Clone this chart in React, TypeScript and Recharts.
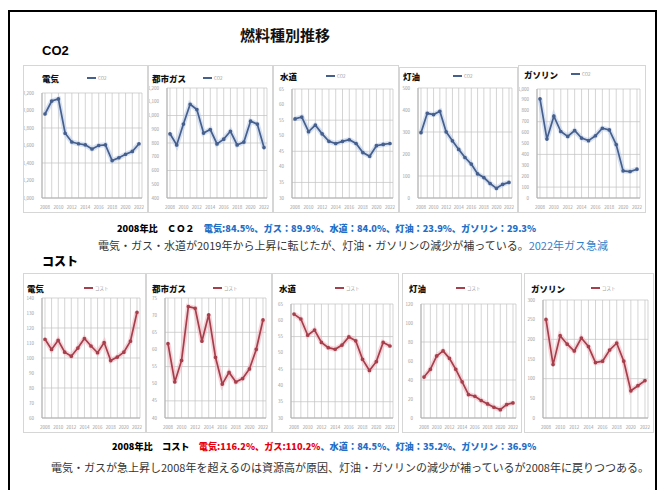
import React from 'react'
import { LineChart, Line, XAxis, YAxis, CartesianGrid } from 'recharts'

// 2008〜2022 年の推移
const years = [2008, 2009, 2010, 2011, 2012, 2013, 2014, 2015, 2016, 2017, 2018, 2019, 2020, 2021, 2022]

// CO2 (kg)
const co2Electric = [1960, 2108, 2132, 1740, 1640, 1620, 1608, 1560, 1600, 1608, 1428, 1460, 1500, 1532, 1620]
const co2Gas = [867, 786, 938, 1082, 1043, 872, 898, 793, 828, 885, 786, 807, 959, 938, 767]
const co2Water = [55.4, 56.0, 51.3, 53.4, 50.6, 48.2, 47.5, 48.2, 48.7, 47.5, 44.6, 43.4, 46.8, 47.2, 47.5]
const co2Kerosene = [297, 385, 379, 394, 301, 260, 221, 184, 154, 110, 93, 66, 44, 62, 71]
const co2Gasoline = [910, 541, 751, 610, 565, 619, 550, 526, 571, 640, 625, 490, 249, 243, 264]

// コスト (千円)
const costElectric = [112.5, 105.7, 111.8, 103.9, 101.2, 106.6, 113.0, 108.0, 103.5, 110.3, 98.3, 100.6, 103.9, 111.2, 130.5]
const costGas = [61.7, 50.5, 56.8, 72.5, 72.0, 62.4, 70.1, 57.7, 49.9, 53.3, 50.5, 51.5, 54.3, 60.0, 68.6]
const costWater = [61.9, 60.4, 55.4, 57.0, 53.2, 51.6, 51.1, 52.4, 54.9, 53.7, 48.0, 44.6, 47.3, 53.2, 52.1]
const costKerosene = [43.1, 51.2, 65.3, 70.6, 62.8, 51.2, 38.1, 24.7, 22.9, 18.4, 14.8, 11.3, 8.8, 14.1, 15.9]
const costGasoline = [250.7, 135.7, 209.2, 187.6, 170.3, 203.2, 181.6, 140.9, 144.4, 172.9, 190.2, 144.4, 69.2, 82.1, 95.1]

const range = (from: number, to: number, step: number) => {
  const out: number[] = []
  for (let v = from; v <= to + 1e-9; v += step) out.push(Math.round(v * 100) / 100)
  return out
}

const FONT = '"Noto Sans CJK JP", "Noto Sans", sans-serif'

interface MiniChartProps {
  title: string
  legend: string
  values: number[]
  ticks: number[]
  left: number
  top: number
  width: number
  height: number
  plotTop: number
  titleX: number
  titleY: number
  legendX: number
  color: string
  glow: string
}

function MiniChart({ title, legend, values, ticks, left, top, width, height, plotTop, titleX, titleY, legendX, color, glow }: MiniChartProps) {
  const data = years.map((y, i) => ({ year: y, v: values[i] }))
  const tickStyle = { fontSize: 4.5, fill: '#9a9a9a' }
  return (
    <div
      style={{
        position: 'absolute', left, top, width, height,
        border: '1px solid #d6d6d6', background: '#fff', boxSizing: 'border-box',
      }}
    >
      <div style={{ position: 'absolute', left: 0, top: 0 }}>
        <LineChart
          width={width - 2}
          height={height - 2}
          data={data}
          margin={{ top: plotTop, right: 5, bottom: 2, left: 0 }}
        >
          <CartesianGrid stroke="#c2c2c2" strokeWidth={0.7} />
          <XAxis
            dataKey="year"
            interval={0}
            tickFormatter={(v: number, i: number) => (i % 2 === 0 ? String(v) : '')}
            tick={tickStyle}
            tickLine={false}
            axisLine={{ stroke: '#b0b0b0' }}
            height={12}
            padding={{ left: 3, right: 3 }}
          />
          <YAxis
            domain={[ticks[0], ticks[ticks.length - 1]]}
            ticks={ticks}
            width={18}
            tick={tickStyle}
            tickLine={false}
            axisLine={{ stroke: '#b0b0b0' }}
            tickFormatter={(v: number) => v.toLocaleString('ja-JP')}
          />
          <Line dataKey="v" stroke={glow} strokeWidth={5} strokeOpacity={0.55} dot={false} isAnimationActive={false} />
          <Line
            dataKey="v"
            stroke={color}
            strokeWidth={1.7}
            dot={{ r: 1, fill: color, stroke: color }}
            isAnimationActive={false}
          />
        </LineChart>
      </div>
      <div
        style={{
          position: 'absolute', left: titleX, top: titleY - 6, fontSize: 8.5, lineHeight: '12px',
          fontWeight: 900, fontFamily: FONT, color: '#111', whiteSpace: 'nowrap',
        }}
      >
        {title}
      </div>
      <div
        style={{
          position: 'absolute', left: legendX, top: titleY - 3, height: 6, display: 'flex', alignItems: 'center', gap: 2,
          fontSize: 4.5, lineHeight: '6px', color: '#9a9a9a', fontFamily: FONT, whiteSpace: 'nowrap',
        }}
      >
        <span style={{ display: 'inline-block', width: 9, height: 2, background: color }} />
        <span>{legend}</span>
      </div>
    </div>
  )
}

const CO2_COLOR = '#465f8c'
const CO2_GLOW = '#b7cbe9'
const COST_COLOR = '#a63f4c'
const COST_GLOW = '#f2b3bc'

export default function App() {
  const row1Top = 65
  const row1H = 148
  const row2Top = 273
  const row2H = 160
  return (
    <div style={{ position: 'fixed', left: 0, top: 0, width: 665, height: 490, background: '#fff', overflow: 'hidden', fontFamily: FONT }}>
      <div style={{ position: 'absolute', left: 8, top: 10, width: 649, height: 500, border: '2px solid #000', boxSizing: 'border-box' }} />

      <div style={{ position: 'absolute', left: 240, top: 24, fontSize: 15, fontWeight: 700, color: '#111' }}>燃料種別推移</div>
      <div style={{ position: 'absolute', left: 42, top: 43, fontSize: 13, fontWeight: 700, fontFamily: '"Liberation Sans", Arial, sans-serif' }}>CO2</div>

      <MiniChart title="電気" legend="CO2" values={co2Electric} ticks={range(1000, 2200, 200)} left={23} top={row1Top} width={125} height={row1H} plotTop={27} titleX={18} titleY={12} legendX={63} color={CO2_COLOR} glow={CO2_GLOW} />
      <MiniChart title="都市ガス" legend="CO2" values={co2Gas} ticks={range(400, 1200, 100)} left={148} top={row1Top} width={125} height={row1H} plotTop={22} titleX={3} titleY={12} legendX={54} color={CO2_COLOR} glow={CO2_GLOW} />
      <MiniChart title="水道" legend="CO2" values={co2Water} ticks={range(30, 65, 5)} left={273} top={row1Top} width={126} height={row1H} plotTop={23} titleX={6} titleY={10} legendX={52} color={CO2_COLOR} glow={CO2_GLOW} />
      <MiniChart title="灯油" legend="CO2" values={co2Kerosene} ticks={range(0, 500, 100)} left={399} top={row1Top + 2} width={119} height={row1H - 2} plotTop={20} titleX={3} titleY={8} legendX={53} color={CO2_COLOR} glow={CO2_GLOW} />
      <MiniChart title="ガソリン" legend="CO2" values={co2Gasoline} ticks={range(0, 1000, 100)} left={518} top={row1Top} width={128} height={row1H} plotTop={23} titleX={5} titleY={8} legendX={52} color={CO2_COLOR} glow={CO2_GLOW} />

      <div style={{ position: 'absolute', left: 117, top: 221, fontSize: 9.2, fontWeight: 900, whiteSpace: 'nowrap', color: '#000' }}>
        2008年比　ＣＯ２　<span style={{ color: '#1f6fc6' }}>電気:84.5%、ガス：89.9%、水道：84.0%、灯油：23.9%、ガソリン：29.3%</span>
      </div>
      <div style={{ position: 'absolute', left: 98, top: 237, fontSize: 11, whiteSpace: 'nowrap', color: '#333' }}>
        電気・ガス・水道が2019年から上昇に転じたが、灯油・ガソリンの減少が補っている。<span style={{ color: '#2f7fc8' }}>2022年ガス急減</span>
      </div>

      <div style={{ position: 'absolute', left: 42, top: 252, fontSize: 12, fontWeight: 900, color: '#000' }}>コスト</div>

      <MiniChart title="電気" legend="コスト" values={costElectric} ticks={range(60, 140, 10)} left={23} top={row2Top} width={123} height={row2H} plotTop={24} titleX={3} titleY={14} legendX={60} color={COST_COLOR} glow={COST_GLOW} />
      <MiniChart title="都市ガス" legend="コスト" values={costGas} ticks={range(40, 75, 5)} left={146} top={row2Top} width={126} height={row2H} plotTop={24} titleX={5} titleY={14} legendX={66} color={COST_COLOR} glow={COST_GLOW} />
      <MiniChart title="水道" legend="コスト" values={costWater} ticks={range(30, 65, 5)} left={272} top={row2Top} width={127} height={row2H} plotTop={30} titleX={6} titleY={14} legendX={62} color={COST_COLOR} glow={COST_GLOW} />
      <MiniChart title="灯油" legend="コスト" values={costKerosene} ticks={range(0, 120, 20)} left={402} top={row2Top} width={120} height={row2H} plotTop={30} titleX={6} titleY={14} legendX={53} color={COST_COLOR} glow={COST_GLOW} />
      <MiniChart title="ガソリン" legend="コスト" values={costGasoline} ticks={range(0, 300, 50)} left={524} top={row2Top} width={130} height={row2H} plotTop={26} titleX={6} titleY={14} legendX={66} color={COST_COLOR} glow={COST_GLOW} />

      <div style={{ position: 'absolute', left: 112, top: 439, fontSize: 9.2, fontWeight: 900, whiteSpace: 'nowrap', color: '#000' }}>
        2008年比　コスト　<span style={{ color: '#e60012' }}>電気:116.2%、ガス:110.2%</span>
        <span style={{ color: '#1f6fc6' }}>、水道：84.5%、灯油：35.2%、ガソリン：36.9%</span>
      </div>
      <div style={{ position: 'absolute', left: 51, top: 459, fontSize: 11, whiteSpace: 'nowrap', color: '#333' }}>
        電気・ガスが急上昇し2008年を超えるのは資源高が原因、灯油・ガソリンの減少が補っているが2008年に戻りつつある。
      </div>
    </div>
  )
}
